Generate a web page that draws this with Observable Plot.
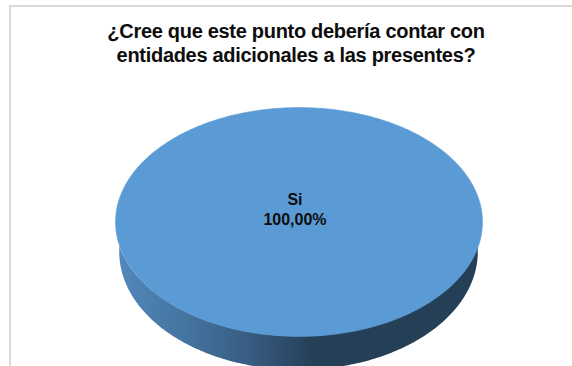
<!DOCTYPE html>
<html>
<head>
<meta charset="utf-8">
<script src="https://cdn.jsdelivr.net/npm/d3@7"></script>
<script src="https://cdn.jsdelivr.net/npm/@observablehq/plot@0.6"></script>
<style>
  html, body { margin: 0; padding: 0; background: #fff; width: 572px; height: 366px; overflow: hidden; }
  #page { position: relative; width: 572px; height: 366px; overflow: hidden; font-family: "Liberation Sans", Arial, sans-serif; }
  #frame { position: absolute; left: 9px; top: 5px; width: 600px; height: 400px; border: 2px solid #d9d9d9; box-sizing: border-box; }
  #title { position: absolute; left: 10px; top: 19px; width: 572px; text-align: center; font-weight: bold; font-size: 20px; letter-spacing: -0.3px; line-height: 24px; color: #0d0d0d; }
  #chart { position: absolute; left: 0; top: 75px; }
  #chart svg { display: block; background: transparent; overflow: hidden; }
</style>
</head>
<body>
<div id="page">
  <div id="frame"></div>
  <div id="title"></div>
  <div id="chart"></div>
</div>
<script>
const titleLines = ["¿Cree que este punto debería contar con", "entidades adicionales a las presentes?"];
const categories = ["Si"];
const shares = [100];
const labels = ["100,00%"];
const sliceColors = ["#5b9bd5"];

const titleEl = document.getElementById("title");
titleLines.forEach(t => { const d = document.createElement("div"); d.textContent = t; titleEl.appendChild(d); });

// Pie layout in unit coordinates; the scales turn it into a tilted ellipse.
const arcs = d3.pie().sort(null).startAngle(0).endAngle(2 * Math.PI)(shares);
const steps = 360;
const topFace = arcs.flatMap((a, i) =>
  d3.range(steps + 1).map(k => {
    const t = a.startAngle + (a.endAngle - a.startAngle) * k / steps;
    return {slice: categories[i], x: Math.sin(t), y: Math.cos(t)};
  })
);

// Wall below the front half of the face; the rim shrinks slightly with depth.
const depthY = -0.265, depthR = 0.977, ryRatio = 1.03;
const wall = d3.range(0, 181).map(k => {
  const t = k / 180 * Math.PI;
  const c = Math.cos(t), s = Math.sin(t);
  return {
    x: -c * depthR,
    yTop: -Math.sqrt(Math.max(0, 1 - (c * depthR) ** 2)),
    yBottom: depthY - ryRatio * s
  };
});

const defs = () => {
  const g = d3.create("svg:g");
  const lg = g.append("defs").append("linearGradient")
    .attr("id", "wallGrad").attr("gradientUnits", "objectBoundingBox")
    .attr("x1", 0).attr("x2", 1).attr("y1", 0).attr("y2", 0);
  [[0, "#5288ba"], [0.2, "#43729d"], [0.35, "#385f85"], [0.47, "#2d4a67"], [0.55, "#243f56"], [1, "#243f56"]]
    .forEach(([o, c]) => lg.append("stop").attr("offset", o).attr("stop-color", c));
  return g.node();
};

const plot = Plot.plot({
  width: 572,
  height: 291,
  margin: 0,
  x: {domain: [-1, 1], range: [115, 482], axis: null},
  y: {domain: [-1, 1], range: [261, 32], axis: null},
  color: {domain: categories, range: sliceColors},
  marks: [
    defs,
    Plot.area(wall, {x1: "x", y1: "yTop", y2: "yBottom", fill: "url(#wallGrad)"}),
    Plot.line(topFace, {x: "x", y: "y", z: "slice", fill: "slice", stroke: "slice", strokeWidth: 0.5}),
    Plot.text(categories.map((c, i) => ({c, label: labels[i]})), {
      x: () => 0,
      y: () => 0,
      text: d => `${d.c}\n${d.label}`,
      dx: -4,
      dy: -13,
      lineHeight: 1.25,
      fontSize: 16,
      fontWeight: "bold",
      fill: "#0d0d0d",
      fontFamily: "Liberation Sans, Arial, sans-serif"
    })
  ]
});
document.getElementById("chart").appendChild(plot);
</script>
</body>
</html>
